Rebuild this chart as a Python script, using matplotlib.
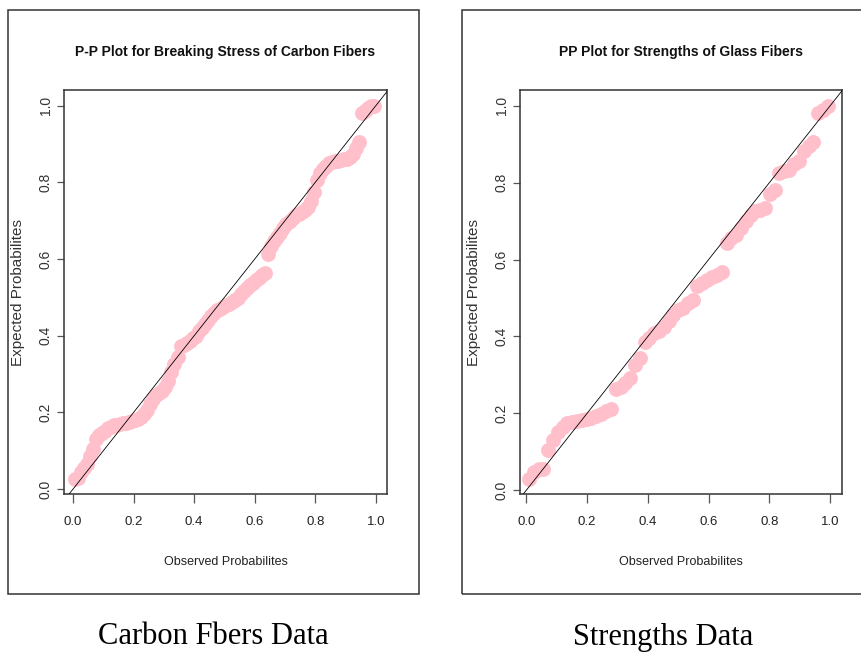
import matplotlib
matplotlib.use('Agg')
from matplotlib import pyplot as plt
from matplotlib.patches import Rectangle

# Carbon fibers: observed vs expected probabilities
carbon_obs = [0.005, 0.015, 0.025, 0.035, 0.045, 0.055, 0.065, 0.075, 0.085, 0.095,
              0.105, 0.115, 0.125, 0.135, 0.145, 0.155, 0.165, 0.175, 0.185, 0.195,
              0.205, 0.215, 0.225, 0.235, 0.245, 0.255, 0.265, 0.275, 0.285, 0.295,
              0.305, 0.315, 0.325, 0.335, 0.345, 0.355, 0.365, 0.375, 0.385, 0.395,
              0.405, 0.415, 0.425, 0.435, 0.445, 0.455, 0.465, 0.475, 0.485, 0.495,
              0.505, 0.515, 0.525, 0.535, 0.545, 0.555, 0.565, 0.575, 0.585, 0.595,
              0.605, 0.615, 0.625, 0.635, 0.645, 0.655, 0.665, 0.675, 0.685, 0.695,
              0.705, 0.715, 0.725, 0.735, 0.745, 0.755, 0.765, 0.775, 0.785, 0.795,
              0.805, 0.815, 0.825, 0.835, 0.845, 0.855, 0.865, 0.875, 0.885, 0.895,
              0.905, 0.915, 0.925, 0.935, 0.945, 0.955, 0.965, 0.975, 0.985, 0.995]
carbon_exp = [0.025, 0.030, 0.045, 0.055, 0.065, 0.085, 0.105, 0.130, 0.142, 0.146,
              0.152, 0.158, 0.162, 0.166, 0.168, 0.170, 0.171, 0.173, 0.175, 0.177,
              0.180, 0.183, 0.188, 0.196, 0.205, 0.222, 0.235, 0.244, 0.250, 0.256,
              0.265, 0.282, 0.305, 0.325, 0.345, 0.372, 0.376, 0.380, 0.386, 0.394,
              0.400, 0.412, 0.420, 0.430, 0.440, 0.452, 0.460, 0.466, 0.470, 0.475,
              0.479, 0.483, 0.488, 0.493, 0.498, 0.508, 0.516, 0.525, 0.532, 0.538,
              0.545, 0.551, 0.558, 0.563, 0.612, 0.635, 0.648, 0.658, 0.668, 0.680,
              0.692, 0.700, 0.708, 0.714, 0.718, 0.722, 0.728, 0.736, 0.752, 0.775,
              0.805, 0.825, 0.835, 0.842, 0.850, 0.853, 0.855, 0.857, 0.858, 0.860,
              0.862, 0.866, 0.875, 0.890, 0.905, 0.980, 0.985, 0.995, 0.998, 1.000]

# Glass fibers
glass_obs = [0.008, 0.024, 0.040, 0.056, 0.071, 0.087, 0.103, 0.119, 0.135, 0.151,
             0.167, 0.183, 0.198, 0.214, 0.230, 0.246, 0.262, 0.278, 0.294, 0.310,
             0.325, 0.341, 0.357, 0.373, 0.389, 0.405, 0.421, 0.437, 0.452, 0.468,
             0.484, 0.500, 0.516, 0.532, 0.548, 0.563, 0.579, 0.595, 0.611, 0.627,
             0.643, 0.659, 0.675, 0.690, 0.706, 0.722, 0.738, 0.754, 0.770, 0.786,
             0.802, 0.817, 0.833, 0.849, 0.865, 0.881, 0.897, 0.913, 0.929, 0.944,
             0.960, 0.976, 0.992]
glass_exp = [0.028, 0.048, 0.055, 0.056, 0.105, 0.130, 0.150, 0.165, 0.175, 0.178,
             0.180, 0.182, 0.184, 0.188, 0.193, 0.198, 0.205, 0.212, 0.262, 0.268,
             0.278, 0.292, 0.325, 0.345, 0.385, 0.395, 0.410, 0.415, 0.425, 0.440,
             0.455, 0.468, 0.475, 0.488, 0.495, 0.530, 0.540, 0.548, 0.555, 0.560,
             0.568, 0.642, 0.655, 0.665, 0.682, 0.700, 0.715, 0.725, 0.728, 0.735,
             0.770, 0.780, 0.825, 0.830, 0.833, 0.848, 0.855, 0.882, 0.895, 0.905,
             0.982, 0.990, 1.000]

ticks = [0.0, 0.2, 0.4, 0.6, 0.8, 1.0]
tick_labels = ['0.0', '0.2', '0.4', '0.6', '0.8', '1.0']

sans = ['Liberation Sans', 'DejaVu Sans']
W, H = 861, 652

fig = plt.figure(figsize=(8.61, 6.52), dpi=100)

panels = [
    dict(obs=carbon_obs, exp=carbon_exp, left=64, right=387, xlim=(-0.030, 1.037),
         ylim=(-0.013, 1.041), title='P-P Plot for Breaking Stress of Carbon Fibers',
         caption='Carbon Fbers Data', cx=213, box=(8, 419)),
    dict(obs=glass_obs, exp=glass_exp, left=520, right=842, xlim=(-0.021, 1.039),
         ylim=(-0.010, 1.041), title='PP Plot for Strengths of Glass Fibers',
         caption='Strengths Data', cx=663, box=(462, 875)),
]

for p in panels:
    # outer frame around each panel
    b0, b1 = p['box']
    fig.add_artist(Rectangle((b0 / W, 1 - 594 / H), (b1 - b0) / W, 584 / H,
                             transform=fig.transFigure, fill=False,
                             edgecolor='#333333', linewidth=1.1))

    ax = fig.add_axes([p['left'] / W, 1 - 494 / H, (p['right'] - p['left']) / W, 404 / H])
    ax.scatter(p['obs'], p['exp'], s=115, color='pink', linewidths=0, zorder=2)
    ax.axline((0, 0), slope=1, color='black', linewidth=0.6, zorder=3)
    ax.set_xlim(p['xlim'])
    ax.set_ylim(p['ylim'])

    for s in ax.spines.values():
        s.set_color('#333333')
        s.set_linewidth(1.1)

    ax.set_xticks(ticks)
    ax.set_xticklabels(tick_labels, family=sans, fontsize=9.5, color='#222222')
    ax.set_yticks(ticks)
    ax.set_yticklabels(tick_labels, family=sans, fontsize=10, color='#333333',
                       rotation=90, va='center')
    ax.tick_params(axis='x', length=6.5, width=0.9, color='#555555', pad=9)
    ax.tick_params(axis='y', length=5, width=0.9, color='#555555', pad=3)

    ax.set_xlabel('Observed Probabilites', family=sans, fontsize=9, color='#222222')
    ax.xaxis.set_label_coords(0.5, -0.168)
    ax.xaxis.label.set_va('center')
    ax.set_ylabel('Expected Probabilites', family=sans, fontsize=11, color='#333333')
    ax.yaxis.set_label_coords(-46 / (p['right'] - p['left']), 0.5)
    ax.yaxis.label.set_va('center')

    mid = (p['left'] + p['right']) / 2
    fig.text(mid / W, 1 - 52 / H, p['title'], family=sans, fontsize=10,
             fontweight='bold', ha='center', va='center', color='#111111')
    fig.text(p['cx'] / W, 1 - 637 / H, p['caption'], family=['Liberation Serif'],
             fontsize=22, ha='center', va='center', color='black')

plt.savefig('out.png', dpi=100)
